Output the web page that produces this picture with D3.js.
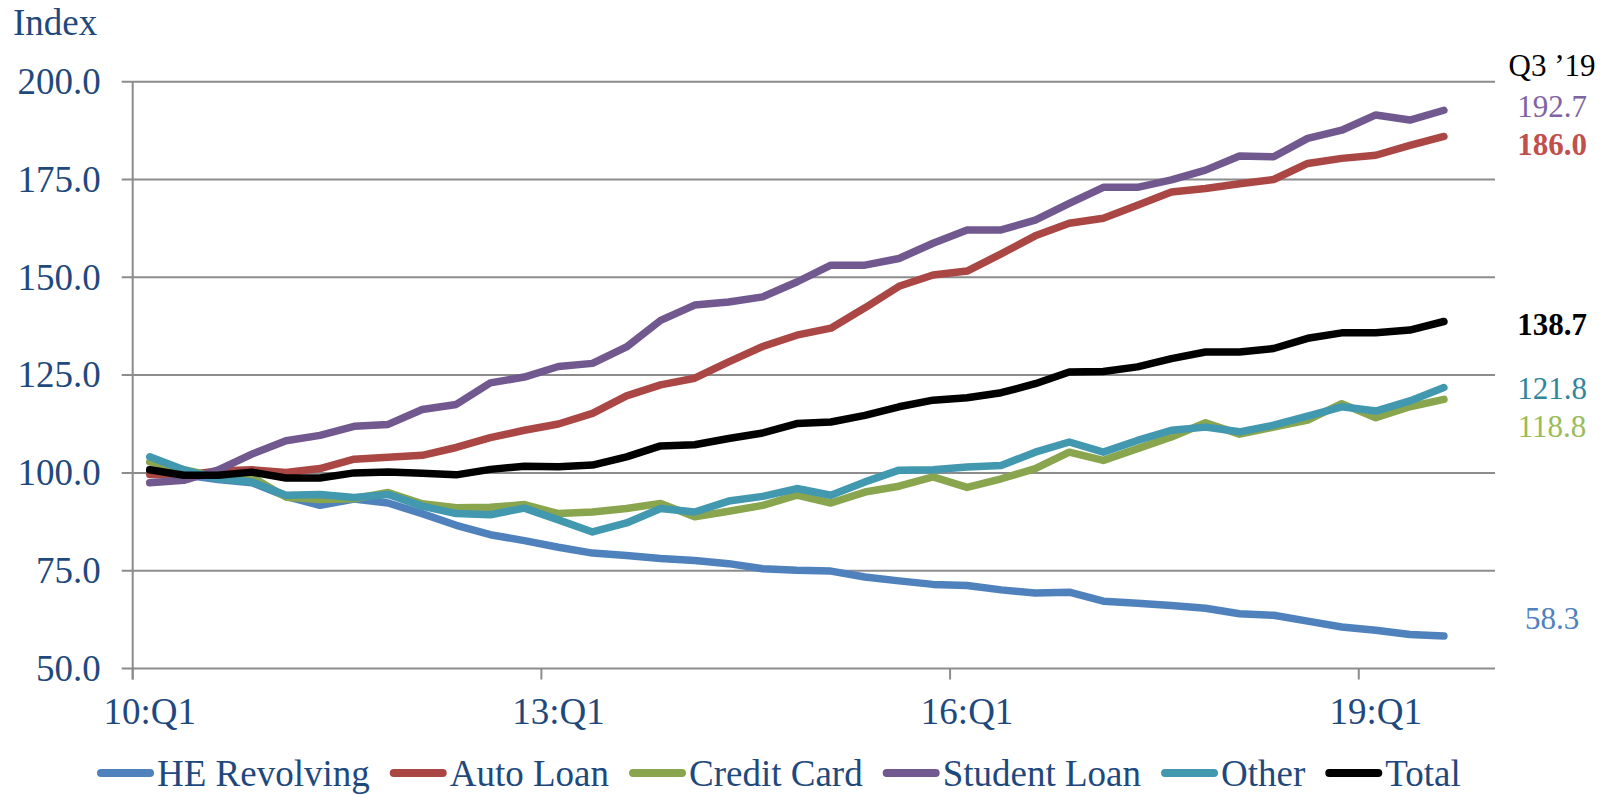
<!DOCTYPE html>
<html>
<head>
<meta charset="utf-8">
<script src="https://cdn.jsdelivr.net/npm/d3@7"></script>
<style>
  html, body { margin: 0; padding: 0; background: #fff; }
  svg { display: block; font-family: "Liberation Serif", "Times New Roman", serif; }
</style>
</head>
<body>
<svg id="chart" width="1606" height="795"></svg>
<script>
// Quarterly categories on the x axis (19:Q4 is an empty slot at the end)
const quarters = [
  "10:Q1","10:Q2","10:Q3","10:Q4","11:Q1","11:Q2","11:Q3","11:Q4",
  "12:Q1","12:Q2","12:Q3","12:Q4","13:Q1","13:Q2","13:Q3","13:Q4",
  "14:Q1","14:Q2","14:Q3","14:Q4","15:Q1","15:Q2","15:Q3","15:Q4",
  "16:Q1","16:Q2","16:Q3","16:Q4","17:Q1","17:Q2","17:Q3","17:Q4",
  "18:Q1","18:Q2","18:Q3","18:Q4","19:Q1","19:Q2","19:Q3","19:Q4"
];
const xTickLabels = ["10:Q1", "13:Q1", "16:Q1", "19:Q1"];
const yTickValues = [50, 75, 100, 125, 150, 175, 200];

// Index values, 10:Q1 through 19:Q3
const heRevolving = [100.8, 99.5, 98.3, 97.5, 94.0, 91.7, 93.3, 92.3, 89.6, 86.6,
  84.2, 82.7, 81.0, 79.5, 78.9, 78.1, 77.6, 76.8, 75.5, 75.1,
  74.9, 73.4, 72.4, 71.5, 71.2, 70.1, 69.3, 69.5, 67.2, 66.7,
  66.1, 65.4, 64.0, 63.6, 62.1, 60.6, 59.8, 58.7, 58.3];
const autoLoan = [99.6, 99.4, 100.5, 100.8, 100.1, 101.1, 103.5, 104.0, 104.5, 106.5,
  109.0, 110.9, 112.5, 115.2, 119.7, 122.5, 124.2, 128.4, 132.3, 135.2,
  137.0, 142.2, 147.7, 150.6, 151.6, 156.0, 160.6, 163.8, 165.1, 168.4,
  171.8, 172.7, 173.9, 175.0, 179.1, 180.4, 181.2, 183.7, 186.0];
const creditCard = [102.8, 100.8, 99.0, 99.0, 93.8, 93.2, 93.4, 95.0, 92.1, 91.1,
  91.2, 91.9, 89.6, 90.0, 90.9, 92.2, 88.8, 90.2, 91.7, 94.3,
  92.3, 95.1, 96.6, 99.0, 96.3, 98.5, 101.1, 105.3, 103.2, 106.2,
  109.2, 112.8, 109.9, 111.7, 113.5, 117.7, 114.1, 116.9, 118.8];
const studentLoan = [97.5, 98.1, 100.7, 104.8, 108.2, 109.6, 111.9, 112.4, 116.2, 117.5,
  123.0, 124.5, 127.2, 128.0, 132.2, 139.0, 142.9, 143.7, 145.0, 148.8,
  153.1, 153.1, 154.8, 158.7, 162.1, 162.1, 164.6, 168.9, 173.0, 173.0,
  174.9, 177.4, 181.0, 180.8, 185.5, 187.6, 191.5, 190.2, 192.7];
const other = [104.1, 100.8, 98.5, 97.7, 94.3, 94.5, 93.7, 94.5, 91.5, 89.6,
  89.3, 91.0, 88.0, 84.9, 87.2, 90.9, 90.0, 92.8, 94.0, 96.0,
  94.3, 97.7, 100.7, 100.8, 101.5, 101.9, 105.3, 107.9, 105.3, 108.3,
  110.9, 111.7, 110.5, 112.2, 114.5, 116.9, 115.8, 118.4, 121.8];
const total = [100.8, 99.4, 99.4, 100.2, 98.7, 98.7, 100.0, 100.2, 99.9, 99.5,
  100.9, 101.7, 101.6, 102.0, 104.1, 106.9, 107.2, 108.8, 110.2, 112.6,
  113.0, 114.7, 116.9, 118.6, 119.2, 120.5, 122.8, 125.8, 125.9, 127.1,
  129.2, 130.9, 130.9, 131.8, 134.4, 135.8, 135.8, 136.5, 138.7];

const seriesNames = ["HE Revolving", "Auto Loan", "Credit Card", "Student Loan", "Other", "Total"];
const seriesValues = [heRevolving, autoLoan, creditCard, studentLoan, other, total];
const lineColors = ["#4F81BD", "#AA4643", "#89A54E", "#71588F", "#4198AF", "#000000"];
const labelColors = ["#4F81BD", "#C0504D", "#9BBB59", "#8064A2", "#31859C", "#000000"];
const labelBold = [false, true, false, false, false, true];

const svg = d3.select("#chart");
const textBlue = "#1F497D";
const gridColor = "#8C8C8C";

const plotLeft = 132.7, plotRight = 1495, plotTop = 81.7, plotBottom = 668.5;

const x = d3.scaleBand().domain(quarters).range([plotLeft, plotRight]).padding(0);
const y = d3.scaleLinear().domain([50, 200]).range([plotBottom, plotTop]);

// Horizontal gridlines, running a little left of the axis as tick marks
svg.append("g")
  .selectAll("line")
  .data(yTickValues)
  .join("line")
  .attr("x1", plotLeft - 11).attr("x2", plotRight)
  .attr("y1", d => y(d)).attr("y2", d => y(d))
  .attr("stroke", gridColor).attr("stroke-width", 2);

// Vertical axis line
svg.append("line")
  .attr("x1", plotLeft).attr("x2", plotLeft)
  .attr("y1", plotTop).attr("y2", plotBottom + 11)
  .attr("stroke", gridColor).attr("stroke-width", 2);

// Y axis labels
const yAxis = svg.append("g")
  .attr("transform", `translate(${plotLeft - 11},0)`)
  .call(d3.axisLeft(y).tickValues(yTickValues).tickSize(0).tickPadding(21)
    .tickFormat(d3.format(".1f")));
yAxis.select(".domain").remove();
yAxis.selectAll("text")
  .attr("fill", textBlue)
  .style("font-size", "37px")
  .style("font-family", "'Liberation Serif', 'Times New Roman', serif");

// X axis: tick marks sit on category boundaries, labels under the category
svg.append("g")
  .selectAll("line")
  .data(xTickLabels)
  .join("line")
  .attr("x1", d => x(d)).attr("x2", d => x(d))
  .attr("y1", plotBottom).attr("y2", plotBottom + 11)
  .attr("stroke", gridColor).attr("stroke-width", 2);

const xAxis = svg.append("g")
  .attr("transform", `translate(0,${plotBottom})`)
  .call(d3.axisBottom(x).tickValues(xTickLabels).tickSize(0).tickPadding(0));
xAxis.select(".domain").remove();
xAxis.selectAll("text")
  .attr("dy", null)
  .attr("y", 55)
  .attr("fill", textBlue)
  .style("font-size", "37px")
  .style("font-family", "'Liberation Serif', 'Times New Roman', serif");

// Axis title
svg.append("text")
  .attr("x", 13).attr("y", 35)
  .attr("fill", textBlue)
  .style("font-size", "37px")
  .text("Index");

// Series lines
const line = d3.line()
  .x((d, i) => x(quarters[i]) + x.bandwidth() / 2)
  .y(d => y(d));

svg.append("g")
  .selectAll("path")
  .data(seriesValues)
  .join("path")
  .attr("d", d => line(d))
  .attr("fill", "none")
  .attr("stroke", (d, i) => lineColors[i])
  .attr("stroke-width", 7.5)
  .attr("stroke-linejoin", "round")
  .attr("stroke-linecap", "round");

// Latest values at the right edge
const labelX = 1552;
svg.append("text")
  .attr("x", labelX).attr("y", 76)
  .attr("text-anchor", "middle")
  .attr("fill", "#000")
  .style("font-size", "31px")
  .text("Q3 \u201919");

const endLabelBaselines = [629, 155, 437, 117, 399, 335];
svg.append("g")
  .selectAll("text")
  .data(seriesValues)
  .join("text")
  .attr("x", labelX)
  .attr("y", (d, i) => endLabelBaselines[i])
  .attr("text-anchor", "middle")
  .attr("fill", (d, i) => labelColors[i])
  .style("font-size", "31px")
  .style("font-weight", (d, i) => labelBold[i] ? "bold" : "normal")
  .text(d => d3.format(".1f")(d[d.length - 1]));

// Legend along the bottom
const legend = svg.append("g");
let lx = 97;
const legendY = 786;
seriesNames.forEach((name, i) => {
  legend.append("line")
    .attr("x1", lx + 4).attr("x2", lx + 53)
    .attr("y1", legendY - 13).attr("y2", legendY - 13)
    .attr("stroke", lineColors[i])
    .attr("stroke-width", 8)
    .attr("stroke-linecap", "round");
  const t = legend.append("text")
    .attr("x", lx + 60).attr("y", legendY)
    .attr("fill", textBlue)
    .style("font-size", "37px")
    .text(name);
  lx = lx + 60 + t.node().getComputedTextLength() + 20;
});
</script>
</body>
</html>
